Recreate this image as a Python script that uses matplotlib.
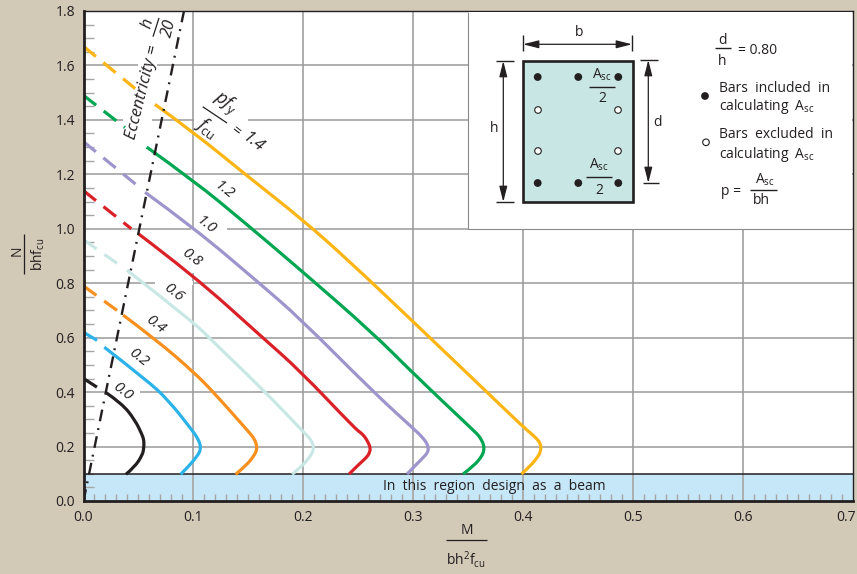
import matplotlib
matplotlib.use("Agg")
import matplotlib.pyplot as plt
from matplotlib.patches import Rectangle, Circle, PathPatch
from matplotlib.path import Path
from matplotlib.transforms import ScaledTranslation

plt.rcParams['font.family'] = ['Open Sans', 'DejaVu Sans']
plt.rcParams['mathtext.fontset'] = 'custom'
plt.rcParams['mathtext.rm'] = 'Open Sans'
plt.rcParams['mathtext.it'] = 'Open Sans:italic'

INK = '#231F20'
BG = '#D2C9B7'

x_ticks = [0.0, 0.1, 0.2, 0.3, 0.4, 0.5, 0.6, 0.7]
y_ticks = [0.0, 0.2, 0.4, 0.6, 0.8, 1.0, 1.2, 1.4, 1.6, 1.8]

ratios = ['1.4', '1.2', '1.0', '0.8', '0.6', '0.4', '0.2', '0.0']
colors = ['#FDB515', '#00A651', '#9D95CC', '#DA2128', '#C9E8E5', '#F7901E', '#2BB3E9', INK]

m_14 = [.065, .1, .1486, .1998, .2423, .2998, .368, .3998, .408, .4135, .4155, .4162, .4155, .4135, .4059, .3984]
n_14 = [1.457, 1.355, 1.195, 1.032, .879, .659, .396, .273, .245, .224, .21, .197, .18, .163, .126, .099]
m_12 = [.0575, .1, .1486, .1968, .2635, .2998, .3559, .3595, .362, .3637, .3644, .3637, .362, .3559, .3453]
n_12 = [1.30, 1.178, 1.016, .851, .616, .469, .255, .24, .224, .21, .194, .178, .163, .132, .099]
m_10 = [.056, .1, .16, .1968, .2635, .3014, .3069, .3114, .313, .3138, .313, .3114, .3029, .2944]
n_10 = [1.134, 1.005, .80, .671, .401, .261, .24, .218, .205, .191, .18, .169, .135, .099]
m_08 = [.0495, .1, .163, .1968, .2468, .2525, .2559, .259, .2611, .26, .2575, .2498, .2416]
n_08 = [.983, .829, .60, .479, .267, .25, .236, .215, .194, .175, .16, .132, .099]
m_06 = [.0395, .1, .1165, .1665, .1998, .204, .2068, .2085, .2093, .2082, .2059, .1998, .1898]
n_06 = [.848, .657, .591, .396, .255, .238, .224, .21, .194, .178, .163, .132, .098]
m_04 = [.036, .0665, .0998, .118, .1514, .1545, .1565, .1573, .1577, .1567, .1544, .1484, .1384]
n_04 = [.683, .591, .475, .401, .249, .233, .218, .206, .194, .178, .163, .132, .098]
m_02 = [.0189, .0575, .0771, .0998, .1035, .1059, .1065, .1054, .1029, .0968, .0884]
n_02 = [.565, .444, .371, .255, .232, .212, .194, .178, .163, .132, .098]
m_00 = [.0202, .0347, .0468, .0535, .0547, .055, .0547, .0535, .0468, .0386]
n_00 = [.399, .359, .298, .242, .226, .212, .19, .169, .126, .098]
solid_m = [m_14, m_12, m_10, m_08, m_06, m_04, m_02, m_00]
solid_n = [n_14, n_12, n_10, n_08, n_06, n_04, n_02, n_00]

dash_start_n = [1.67, 1.49, 1.32, 1.14, .96, .79, .62, .45]
dash_end_m = [.047, .0377, .0486, .0435, .0305, .0305, .0123, .0123]
dash_end_n = [1.515, 1.372, 1.16, 1.0, .873, .70, .59, .418]

ecc_m = [0.0, .0914]
ecc_n = [0.0, 1.8]

fig = plt.figure(figsize=(8.57, 5.74), dpi=100, facecolor=BG)
W, H = 857, 574
ax = fig.add_axes([83.5 / W, (H - 501) / H, 769.5 / W, 490 / H])
ax.set_xlim(0, .7)
ax.set_ylim(0, 1.8)
ax.set_facecolor('white')

ax.set_xticks(x_ticks)
ax.set_yticks(y_ticks)
ax.set_xticklabels([f'{v:.1f}' for v in x_ticks])
ax.set_yticklabels([f'{v:.1f}' for v in y_ticks])
ax.set_xticks([i / 100 for i in range(71)], minor=True)
ax.set_yticks([i * .05 for i in range(37)], minor=True)
ax.tick_params(which='major', length=0, labelsize=10, labelcolor=INK)
ax.tick_params(which='minor', direction='in', color='#a5a5a5', width=1, length=5)
ax.tick_params(axis='y', which='minor', length=7)
ax.tick_params(axis='y', which='major', pad=6)
ax.tick_params(axis='x', which='major', pad=6.5)
last = ax.get_xticklabels()[-1]
last.set_ha('right')
last.set_transform(last.get_transform() + ScaledTranslation(3 / 100, 0, fig.dpi_scale_trans))

ax.axhspan(0, .1, facecolor='#C5E7F8', edgecolor='none', zorder=1)
ax.axhline(.1, color=INK, lw=1.1, zorder=4)
for v in x_ticks[1:-1]:
    ax.axvline(v, color='#ADADAD', lw=1.4, zorder=2)
for v in y_ticks[1:-1]:
    ax.axhline(v, color='#9A9A9A', lw=1.1, zorder=2)

for s in ('left', 'bottom'):
    ax.spines[s].set_linewidth(2.0)
    ax.spines[s].set_color(INK)
for s in ('top', 'right'):
    ax.spines[s].set_linewidth(1.0)
    ax.spines[s].set_color(INK)
for s in ax.spines.values():
    s.set_zorder(8)


def smooth_path(ms, ns):
    """Quadratic curve that rounds the corners of the read points."""
    pts = list(zip(ms, ns))
    verts = [pts[0]]
    codes = [Path.MOVETO]
    for i in range(1, len(pts) - 1):
        mid = ((pts[i][0] + pts[i + 1][0]) / 2, (pts[i][1] + pts[i + 1][1]) / 2)
        if i == len(pts) - 2:
            mid = pts[i + 1]
        verts += [pts[i], mid]
        codes += [Path.CURVE3, Path.CURVE3]
    return Path(verts, codes)


for c, sm, sn, d0, dm, dn in zip(colors, solid_m, solid_n, dash_start_n, dash_end_m, dash_end_n):
    ax.add_patch(PathPatch(smooth_path(sm, sn), facecolor='none', edgecolor=c, lw=2.3, zorder=6,
                           capstyle='butt', joinstyle='round'))
    ax.plot([0, dm], [d0, dn], color=c, lw=2.3, zorder=6, linestyle=(0, (5, 3)), dash_capstyle='butt')
ax.plot(ecc_m, ecc_n, color=INK, lw=1.7, zorder=7, linestyle=(0, (5, 2.7, .8, 3)), dash_capstyle='butt')

# overlay in pixel coordinates for annotation and the section sketch
ov = fig.add_axes([0, 0, 1, 1], zorder=10)
ov.set_xlim(0, W)
ov.set_ylim(H, 0)
ov.axis('off')
ov.patch.set_alpha(0)

# gaps the white label backings leave in the grid
gaps = [(138, 63, 19, 5), (123, 117, 29, 6), (194, 117, 54, 6), (194, 226, 33, 5),
        (155, 281, 38, 4), (191, 229, 4, 44), (106, 390, 34, 4)]
for gx, gy, gw, gh in gaps:
    ax.add_patch(Rectangle((gx, gy), gw, gh, facecolor='white', edgecolor='none',
                           transform=ov.transData, zorder=3, clip_on=False))


def T(x, y, s, size=10, ha='center', va='center', **kw):
    return ov.text(x, y, s, fontsize=size, ha=ha, va=va, color=INK, **kw)


def L(xs, ys, lw=1.0, color=INK):
    ov.plot(xs, ys, color=color, lw=lw, solid_capstyle='butt')


def arrow(x0, y0, x1, y1):
    ov.annotate('', xy=(x1, y1), xytext=(x0, y0),
                arrowprops=dict(arrowstyle='<|-|>,head_length=0.95,head_width=0.24', color=INK, lw=0.9,
                                shrinkA=0, shrinkB=0))


# white inset
ov.add_patch(Rectangle((468, 11.6), 384, 217.4, facecolor='white', edgecolor='none'))
L([468, 468], [11.6, 229], lw=0.8, color='#8a8a8a')
L([468, 852], [229, 229], lw=0.8, color='#8a8a8a')
ov.add_patch(Rectangle((523.3, 60.7), 109.4, 141.3, facecolor='#C8E6E3', edgecolor=INK, lw=1.9))
for x in (537.7, 578.3, 618.3):
    for y in (77, 183):
        ov.add_patch(Circle((x, y), 3.9, facecolor=INK, edgecolor=INK, lw=0))
for x in (538, 618):
    for y in (110, 151):
        ov.add_patch(Circle((x, y), 3.3, facecolor='white', edgecolor=INK, lw=0.8))

L([522.7, 522.7], [35, 51]); L([632.3, 632.3], [35, 51])
arrow(523, 44.3, 632, 44.3)
T(579, 33, 'b', 10)
L([496, 514], [60.7, 60.7]); L([496, 514], [202, 202])
arrow(503.3, 61, 503.3, 202)
T(494, 129, 'h', 10)
L([640, 657.7], [60, 60]); L([643, 659], [183, 183])
arrow(648.3, 60, 648.3, 183)
T(658, 122, 'd', 10)

Asc = r'A$_{\mathrm{sc}}$'
T(602, 75, Asc, 10); L([589.3, 615.3], [86.7, 86.7]); T(602, 99, '2', 10)
T(599, 165, Asc, 10); L([586, 612], [177.3, 177.3]); T(599, 190, '2', 10)

T(722.7, 40, 'd', 10); L([715, 730.7], [48.3, 48.3]); T(721.7, 61.7, 'h', 10)
T(738, 50, '= 0.80', 10, ha='left')
ov.add_patch(Circle((705, 96), 3.9, facecolor=INK, edgecolor=INK, lw=0))
T(719.3, 88, 'Bars  included  in', 10, ha='left')
T(719.3, 107, 'calculating  ' + Asc, 10, ha='left')
ov.add_patch(Circle((706, 142.3), 3.3, facecolor='white', edgecolor=INK, lw=0.8))
T(719.3, 135, 'Bars  excluded  in', 10, ha='left')
T(719.3, 154, 'calculating  ' + Asc, 10, ha='left')
T(720.7, 191.7, 'p =', 10, ha='left')
T(765, 180, Asc, 10); L([750, 776.7], [190, 190]); T(761.7, 200, 'bh', 10)

# band text
T(494, 486, 'In  this  region  design  as  a  beam', 10)

# curve labels
lab = [('0.0', 122.7, 391.7), ('0.2', 138.3, 358), ('0.4', 155.7, 325), ('0.6', 173, 292.7),
       ('0.8', 191.7, 258), ('1.0', 206, 225.7), ('1.2', 224.3, 190.7)]
for s, x, y in lab:
    ov.text(x, y, s, fontsize=11, style='italic', rotation=-38, rotation_mode='anchor', ha='center', va='center',
            color=INK)

ov.text(225, 103, r'$pf_{\mathrm{y}}$', fontsize=13, rotation=-36, ha='center', va='center', color=INK)
L([202.7, 227], [106.7, 123], lw=0.9)
ov.text(207, 128, r'$f_{\mathrm{cu}}$', fontsize=13, rotation=-36, ha='center', va='center', color=INK)
ov.text(236, 131.7, '=', fontsize=11, style='italic', rotation=-38, ha='center', va='center', color=INK)
ov.text(253, 143, '1.4', fontsize=12, style='italic', rotation=-38, ha='center', va='center', color=INK)

ov.text(142.5, 92, 'Eccentricity =', fontsize=12, style='italic', rotation=76, ha='center', va='center', color=INK)
ov.text(148, 23, 'h', fontsize=12, style='italic', rotation=76, ha='center', va='center', color=INK)
L([153, 159], [36.7, 18], lw=0.9)
ov.text(169, 28, '20', fontsize=12, style='italic', rotation=76, ha='center', va='center', color=INK)

# axis titles
T(467.3, 530, 'M', 10)
L([446, 487], [540, 540], lw=0.9)
T(466, 560, r'bh$^{2}$f$_{\mathrm{cu}}$', 10)
ov.text(16.7, 251, 'N', fontsize=10, rotation=90, ha='center', va='center', color=INK)
L([24.3, 24.3], [234, 274], lw=0.9)
ov.text(38, 254, r'bhf$_{\mathrm{cu}}$', fontsize=10, rotation=90, ha='center', va='center', color=INK)

fig.savefig('out.png', dpi=100, facecolor=BG)
